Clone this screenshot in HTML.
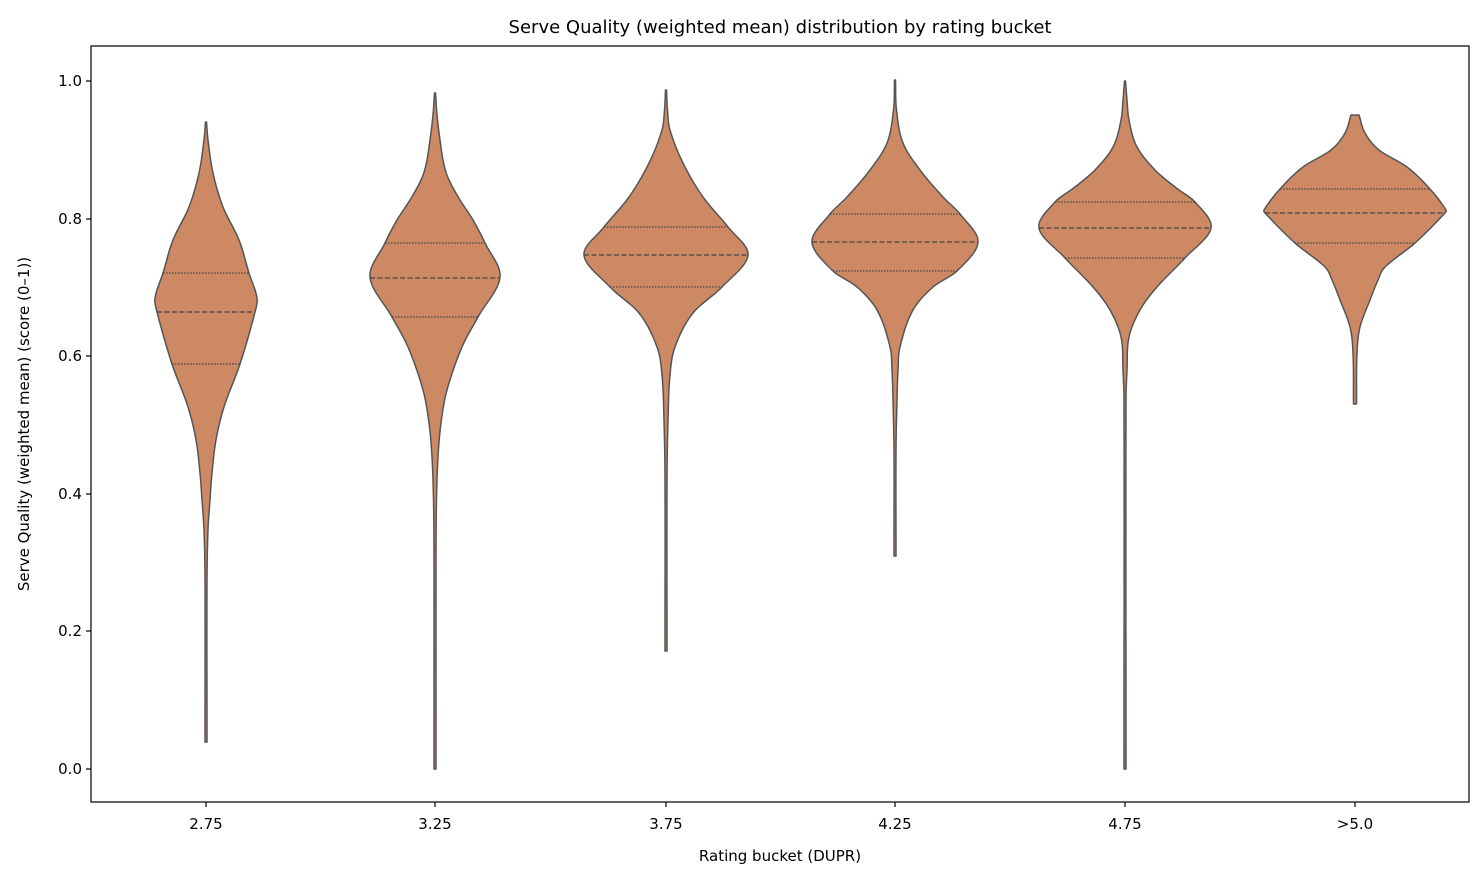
<!DOCTYPE html>
<html><head><style>
body{margin:0;background:#fff;}
text{font-family:"DejaVu Sans","Liberation Sans",sans-serif;fill:#000;}
</style></head><body>
<svg id="s" width="1484" height="881" xmlns="http://www.w3.org/2000/svg">
<rect width="1484" height="881" fill="#fff"/>
<g id="v"></g>
<rect x="91" y="46" width="1378" height="756" fill="none" stroke="#000" stroke-width="1.2"/>
<g font-size="15" text-anchor="end">
<text x="82" y="774">0.0</text><text x="82" y="636">0.2</text><text x="82" y="499">0.4</text><text x="82" y="361">0.6</text><text x="82" y="224">0.8</text><text x="82" y="86">1.0</text>
</g>
<g stroke="#000" stroke-width="1.2">
<line x1="86" x2="91" y1="769" y2="769"/><line x1="86" x2="91" y1="631" y2="631"/><line x1="86" x2="91" y1="494" y2="494"/><line x1="86" x2="91" y1="356" y2="356"/><line x1="86" x2="91" y1="219" y2="219"/><line x1="86" x2="91" y1="81" y2="81"/>
<line x1="206" x2="206" y1="802" y2="807"/><line x1="435" x2="435" y1="802" y2="807"/><line x1="666" x2="666" y1="802" y2="807"/><line x1="895" x2="895" y1="802" y2="807"/><line x1="1125" x2="1125" y1="802" y2="807"/><line x1="1355" x2="1355" y1="802" y2="807"/>
</g>
<g font-size="15" text-anchor="middle">
<text x="206" y="829">2.75</text><text x="435" y="829">3.25</text><text x="666" y="829">3.75</text><text x="895" y="829">4.25</text><text x="1125" y="829">4.75</text><text x="1355" y="829">&gt;5.0</text>
<text x="780" y="861">Rating bucket (DUPR)</text>
<text x="780" y="33" font-size="18">Serve Quality (weighted mean) distribution by rating bucket</text>
<text transform="translate(29,424) rotate(-90)">Serve Quality (weighted mean) (score (0–1))</text>
</g>
</svg>
<script>
var V=[
[206,[[122,0.5],[140,2],[173,7],[207,17],[240,33],[273,43],[298,51],[312,49],[364,34],[407,18],[440,10],[473,6],[500,4],[530,2],[580,1],[742,1]],[273,312,364]],
[435,[[93,0.5],[115,2],[140,5],[165,9],[180,14],[200,25],[220,38],[243,50],[277,65],[317,43],[347,27],[390,12],[423,6],[457,3],[500,1.5],[560,1],[769,1]],[243,278,317]],
[666,[[90,0.5],[110,1.5],[130,4],[163,17],[197,37],[227,62],[255,82],[287,56],[313,27],[347,9],[375,4],[420,2],[480,1],[651,1]],[227,255,287]],
[895,[[80,0.5],[110,1.5],[143,8],[170,25],[197,48],[214,65],[242,83],[271,62],[287,38],[310,18],[347,5],[370,3],[400,2],[450,1],[556,1]],[214,242,271]],
[1125,[[81,0.5],[100,2],[120,4],[147,12],[170,30],[187,50],[202,70],[228,86],[258,60],[287,32],[310,15],[337,4],[370,2],[400,1],[769,1]],[202,228,258]],
[1355,[[115,4],[133,10],[150,24],[167,52],[189,75],[210,91],[213,90],[243,60],[267,30],[280,23],[300,15],[327,5],[353,2],[404,1.5]],[189,213,243]]];
var g=document.getElementById('v'),h='';
function hw(p,y){for(var i=0;i<p.length-1;i++){if(y>=p[i][0]&&y<=p[i+1][0]){
var p0=p[Math.max(i-1,0)],p1=p[i],p2=p[i+1],p3=p[Math.min(i+2,p.length-1)];
var t=(y-p1[0])/(p2[0]-p1[0]);
var d1=(p2[1]-p0[1])/((p2[0]-p0[0])||1)*(p2[0]-p1[0]);
var d2=(p3[1]-p1[1])/((p3[0]-p1[0])||1)*(p2[0]-p1[0]);
var t2=t*t,t3=t2*t;
var v=(2*t3-3*t2+1)*p1[1]+(t3-2*t2+t)*d1+(-2*t3+3*t2)*p2[1]+(t3-t2)*d2;
return Math.max(v,0.5);}}return 0.5;}
V.forEach(function(v){var x=v[0],p=v[1],r=[],l=[];
for(var y=p[0][0];y<=p[p.length-1][0];y+=1){var w=hw(p,y);r.push((x+w).toFixed(2)+','+y);l.unshift((x-w).toFixed(2)+','+y);}
h+='<polygon points="'+r.concat(l).join(' ')+'" fill="#cc8963" stroke="#555" stroke-width="1.5" stroke-linejoin="round"/>';
v[2].forEach(function(y,i){var w=hw(p,y);h+='<line x1="'+(x-w)+'" x2="'+(x+w)+'" y1="'+y+'" y2="'+y+'" stroke="#444" stroke-width="1.3" stroke-dasharray="'+(i==1?'5,2.5':'1.5,1.5')+'"/>';});});
g.innerHTML=h;
</script>
</body></html>
